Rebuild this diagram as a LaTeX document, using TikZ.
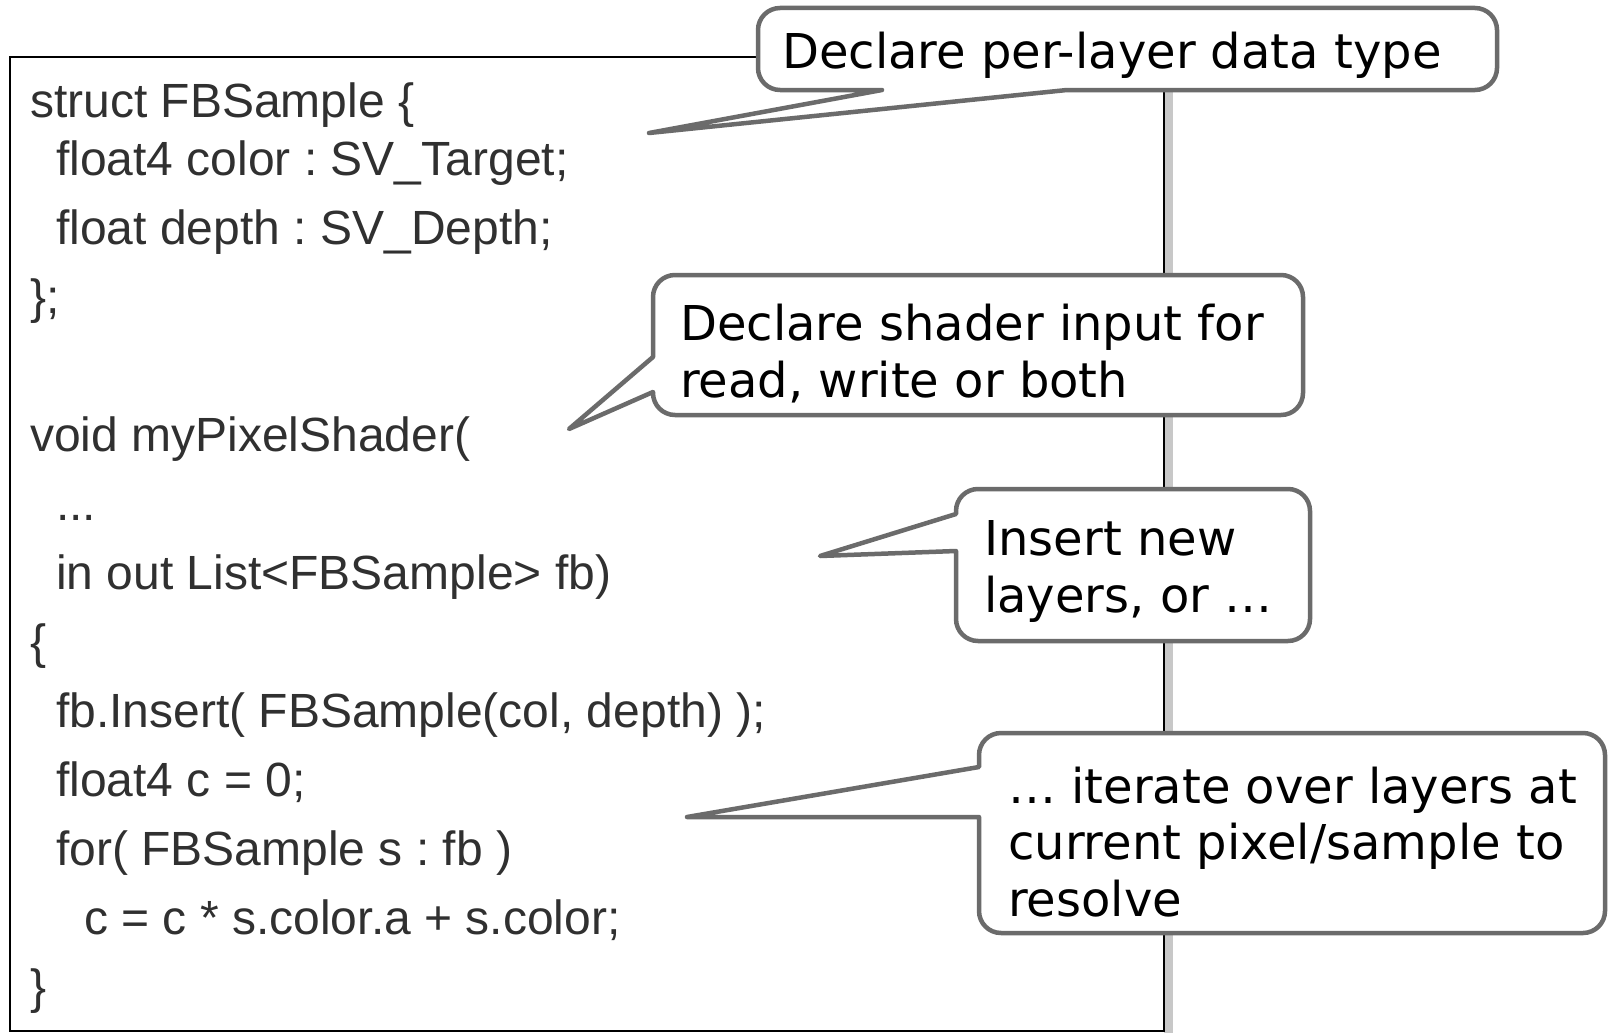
\documentclass[tikz,border=0pt]{standalone}
\usepackage{fontspec}
\newfontfamily\codefont{Liberation Sans}
\newfontfamily\notefont{DejaVu Sans}
\definecolor{bubblegray}{HTML}{6B6B6B}
\definecolor{codegray}{HTML}{303030}
\definecolor{shadowgray}{HTML}{C8C8C8}
\tikzset{
  codeline/.style={anchor=base west, inner sep=0pt, text=codegray,
    font=\codefont\fontsize{48pt}{57pt}\selectfont\frenchspacing},
  notetext/.style={anchor=base west, inner sep=0pt, align=left, text=black,
    font=\notefont\fontsize{48pt}{56.5pt}\selectfont\frenchspacing},
  bubble/.style={draw=bubblegray, line width=4.5pt, fill=white, line join=round},
}
\begin{document}
\begin{tikzpicture}[x=1pt, y=1pt]
\useasboundingbox (0,0) rectangle (1608,-1033);

% code panel with its shadow on the right
\fill[shadowgray] (1164,-66) rectangle (1173,-1033);
\draw[black, line width=2.5pt, fill=white] (10,-57) rectangle (1164,-1031);

% code listing
\node[codeline] (c1)  at (30,-117)  {struct FBSample \{};
\node[codeline] (c2)  at (56,-175)  {float4 color : SV\_Target;};
\node[codeline] (c3)  at (56,-244)  {float depth : SV\_Depth;};
\node[codeline] (c4)  at (30,-313)  {\};};
\node[codeline] (c5)  at (30,-451)  {void myPixelShader(};
\node[codeline] (c6)  at (56,-520)  {...};
\node[codeline] (c7)  at (56,-589)  {in out List<FBSample> fb)};
\node[codeline] (c8)  at (30,-658)  {\{};
\node[codeline] (c9)  at (56,-727)  {fb.Insert( FBSample(col, depth) );};
\node[codeline] (c10) at (56,-796)  {float4 c = 0;};
\node[codeline] (c11) at (56,-865)  {for( FBSample s : fb )};
\node[codeline] (c12) at (84,-934)  {c = c * s.color.a + s.color;};
\node[codeline] (c13) at (30,-1003) {\}};

% callout: per-layer data type (pointer from the bottom edge)
\path[bubble]
  (780,-8) -- (1475,-8) arc[start angle=90, end angle=0, radius=22]
  -- (1497,-68) arc[start angle=0, end angle=-90, radius=22]
  -- (1067,-90) -- (649,-133) -- (882,-90)
  -- (780,-90) arc[start angle=270, end angle=180, radius=22]
  -- (758,-30) arc[start angle=180, end angle=90, radius=22] -- cycle;

% callout: shader input
\path[bubble]
  (675,-275) -- (1281,-275) arc[start angle=90, end angle=0, radius=22]
  -- (1303,-393) arc[start angle=0, end angle=-90, radius=22]
  -- (675,-415) arc[start angle=270, end angle=180, radius=22]
  -- (653,-392) -- (569,-429) -- (653,-357)
  -- (653,-297) arc[start angle=180, end angle=90, radius=22] -- cycle;

% callout: insert
\path[bubble]
  (978,-489) -- (1288,-489) arc[start angle=90, end angle=0, radius=22]
  -- (1310,-619) arc[start angle=0, end angle=-90, radius=22]
  -- (978,-641) arc[start angle=270, end angle=180, radius=22]
  -- (956,-551) -- (820,-556) -- (956,-514)
  -- (956,-511) arc[start angle=180, end angle=90, radius=22] -- cycle;

% callout: iterate and resolve
\path[bubble]
  (1001,-733) -- (1583,-733) arc[start angle=90, end angle=0, radius=22]
  -- (1605,-911) arc[start angle=0, end angle=-90, radius=22]
  -- (1001,-933) arc[start angle=270, end angle=180, radius=22]
  -- (979,-817) -- (687,-817) -- (979,-767)
  -- (979,-755) arc[start angle=180, end angle=90, radius=22] -- cycle;

% callout texts (a multi-line node sits on the baseline of its last line)
\node[notetext] (n1) at (782,-69)   {Declare per-layer data type};
\node[notetext] (n2) at (680,-397)  {Declare shader input for\\read, write or both};
\node[notetext] (n3) at (984,-612)  {Insert new\\layers, or …};
\node[notetext] (n4) at (1008,-916) {… iterate over layers at\\current pixel/sample to\\resolve};
\end{tikzpicture}
\end{document}
